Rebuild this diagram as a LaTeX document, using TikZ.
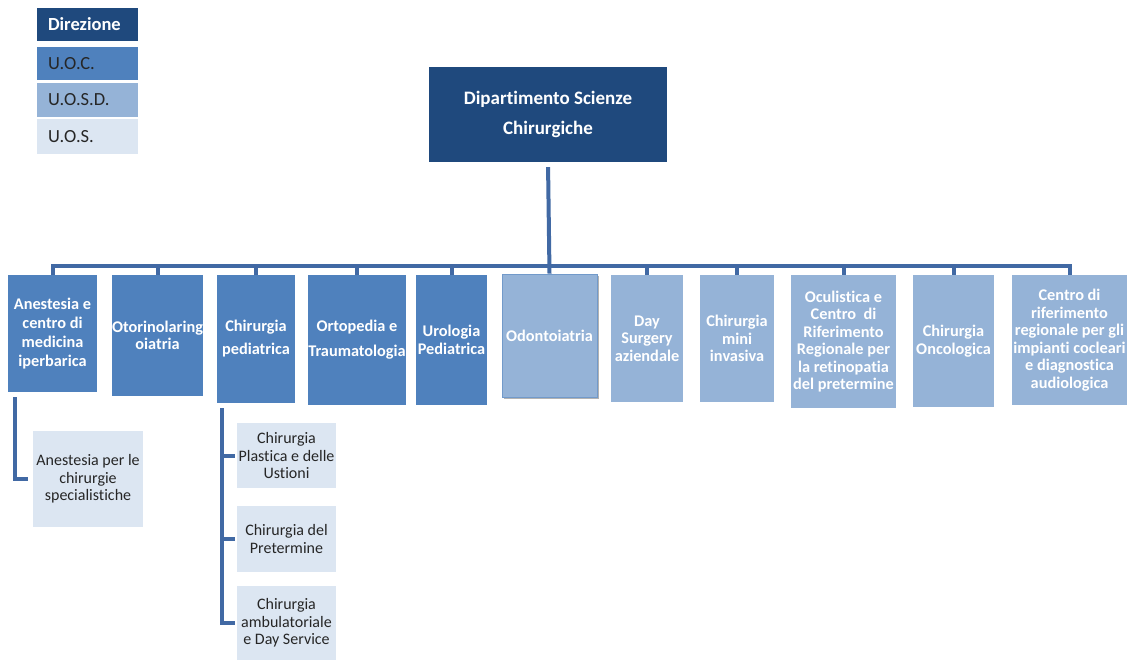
\documentclass[tikz,border=0pt]{standalone}
\usepackage{fontspec}
\setmainfont{Carlito}[Ligatures=NoCommon]
\usetikzlibrary{shadows,calc}
\definecolor{cDir}{HTML}{1F497D}
\definecolor{cUOC}{HTML}{4F81BD}
\definecolor{cUOSD}{HTML}{95B3D7}
\definecolor{cUOS}{HTML}{DCE6F2}
\definecolor{cLine}{HTML}{4169A4}
\definecolor{cTxt}{HTML}{262626}
\tikzset{
  dirbox/.style={fill=cDir, text=white, inner sep=0pt, align=center, font=\bfseries\fontsize{19}{30}\selectfont},
  uocbox/.style={fill=cUOC, text=white, inner sep=0pt, align=center, font=\bfseries\fontsize{16.3}{19}\selectfont},
  uosdbox/.style={fill=cUOSD, text=white, inner sep=0pt, align=center, font=\bfseries\fontsize{16.3}{17.5}\selectfont},
  uosbox/.style={fill=cUOS, text=cTxt, inner sep=0pt, align=center, font=\fontsize{16}{17.5}\selectfont},
  legbox/.style={inner xsep=11pt, inner ysep=0pt, text width=79pt, align=left, minimum height=#1, font=\fontsize{18.5}{20}\selectfont},
  conn/.style={draw=cLine, line width=4pt},
}
\begin{document}
\begin{tikzpicture}[x=1pt,y=-1pt]
\fill[white] (0,0) rectangle (1130,661);
\useasboundingbox (0,0) rectangle (1130,661);

% legend
\node[legbox=33pt, fill=cDir, text=white, font=\bfseries\fontsize{18.5}{20}\selectfont] (l1) at (87.5,24.5) {Direzione};
\node[legbox=33pt, fill=cUOC, text=cTxt] (l2) at (87.5,63.5) {U.O.C.};
\node[legbox=34pt, fill=cUOSD, text=cTxt] (l3) at (87.5,100) {U.O.S.D.};
\node[legbox=35pt, fill=cUOS, text=cTxt] (l4) at (87.5,136.5) {U.O.S.};

% top
\node[dirbox, minimum width=238pt, minimum height=95pt] (dip) at (548,114.5) {Dipartimento Scienze\\Chirurgiche};

% row
\node[uocbox, minimum width=89pt, minimum height=117pt] (b1) at (52.5,333.5) {Anestesia e\\centro di\\medicina\\iperbarica};
\node[uocbox, minimum width=89pt, minimum height=121pt, font=\bfseries\fontsize{16.3}{17}\selectfont] (b2) at (157.5,335.5) {Otorinolaring\\oiatria};
\node[uocbox, minimum width=78pt, minimum height=128pt, font=\bfseries\fontsize{16.3}{23}\selectfont] (b3) at (256,339) {Chirurgia\\pediatrica};
\node[uocbox, minimum width=98pt, minimum height=130pt, font=\bfseries\fontsize{16.3}{25}\selectfont] (b4) at (357,340) {Ortopedia e\\Traumatologia};
\node[uocbox, minimum width=71pt, minimum height=130pt, font=\bfseries\fontsize{16.3}{18}\selectfont] (b5) at (451.5,340) {Urologia\\Pediatrica};
\node[uosdbox, minimum width=95pt, minimum height=123pt, draw=cUOC!80, line width=0.8pt,
      drop shadow={shadow xshift=2pt, shadow yshift=-2pt, fill=black, opacity=0.3}] (b6) at (549.5,335.5) {Odontoiatria};
\node[uosdbox, minimum width=72pt, minimum height=127pt] (b7) at (647,338.5) {Day\\Surgery\\aziendale};
\node[uosdbox, minimum width=74pt, minimum height=127pt] (b8) at (737,338.5) {Chirurgia\\mini\\invasiva};
\node[uosdbox, minimum width=105pt, minimum height=133pt] (b9) at (843.5,341.5) {Oculistica e\\Centro\ \ di\\Riferimento\\Regionale per\\la retinopatia\\del pretermine};
\node[uosdbox, minimum width=81pt, minimum height=132pt] (b10) at (953.5,341) {Chirurgia\\Oncologica};
\node[uosdbox, minimum width=115pt, minimum height=130pt] (b11) at (1069.5,340) {Centro di\\riferimento\\regionale per gli\\impianti cocleari\\e diagnostica\\audiologica};

% children
\node[uosbox, minimum width=110pt, minimum height=96pt] (c1) at (88,479) {Anestesia per le\\chirurgie\\specialistiche};
\node[uosbox, minimum width=99pt, minimum height=65pt] (c2) at (286.5,455.5) {Chirurgia\\Plastica e delle\\Ustioni};
\node[uosbox, minimum width=99pt, minimum height=66pt] (c3) at (286.5,539) {Chirurgia del\\Pretermine};
\node[uosbox, minimum width=99pt, minimum height=74pt] (c4) at (286.5,623) {Chirurgia\\ambulatoriale\\e Day Service};

% bus
\coordinate (busL) at ($(b1.north)+(0,-9)$);
\draw[conn] (b1.north) -- (busL) -| (b11.north);
\foreach \b in {b2,b3,b4,b5,b7,b8,b9,b10} {
  \draw[conn] (\b.north) -- (\b.north |- busL);
}
\draw[conn, shorten <=5pt] (dip.south) -- (b6.north);

% child connectors
\coordinate (t1) at ($(b1.south west)+(7,5)$);
\draw[conn, shorten >=5pt] (t1) |- (c1.west);
\coordinate (t3) at ($(b3.south west)+(5,5)$);
\draw[conn, shorten >=2pt] (t3) |- (c4.west);
\draw[conn, shorten >=2pt] (t3 |- c2.west) -- (c2.west);
\draw[conn, shorten >=2pt] (t3 |- c3.west) -- (c3.west);
\end{tikzpicture}
\end{document}
